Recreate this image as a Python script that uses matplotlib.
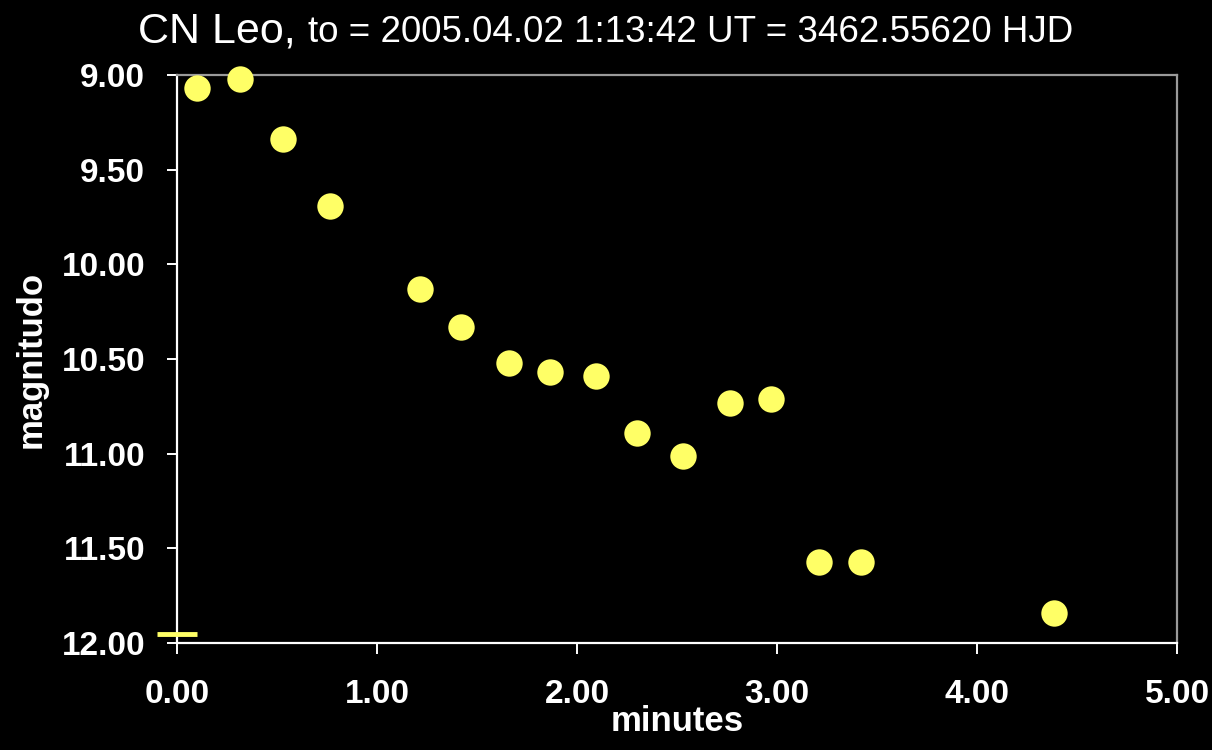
import matplotlib
matplotlib.use("Agg")
import matplotlib.pyplot as plt

# time since to (minutes) and magnitude
minutes = [0.10, 0.315, 0.53, 0.765, 1.215, 1.42, 1.66, 1.865, 2.095,
           2.30, 2.53, 2.765, 2.97, 3.21, 3.42, 4.385]
magnitudo = [9.07, 9.02, 9.34, 9.69, 10.13, 10.33, 10.52, 10.57, 10.59,
             10.89, 11.01, 10.73, 10.71, 11.57, 11.57, 11.84]
# short limit mark at the bottom left
limit_x = [0.0]
limit_y = [11.95]

xticks = [0, 1, 2, 3, 4, 5]
yticks = [9.0, 9.5, 10.0, 10.5, 11.0, 11.5, 12.0]

plt.rcParams['font.family'] = ['Liberation Sans', 'DejaVu Sans']
yellow = '#ffff66'

fig = plt.figure(figsize=(12.12, 7.5), dpi=100, facecolor='black')
ax = fig.add_axes([177/1212, 1 - 643/750, 1000/1212, 568/750])
ax.set_facecolor('black')

ax.plot(minutes, magnitudo, 'o', color=yellow, markersize=19, markeredgewidth=0,
        clip_on=False, zorder=3)
ax.plot(limit_x, limit_y, '_', color=yellow, markersize=29, markeredgewidth=3.5,
        clip_on=False, zorder=3)

ax.set_xlim(0, 5)
ax.set_ylim(12, 9)
ax.set_xticks(xticks)
ax.set_yticks(yticks)
ax.set_xticklabels([f"{v:.2f}" for v in xticks])
ax.set_yticklabels([f"{v:.2f}" for v in yticks])

for s in ['left', 'bottom']:
    ax.spines[s].set_color('white')
    ax.spines[s].set_linewidth(1.6)
for s in ['top', 'right']:
    ax.spines[s].set_color('#9a9a9a')
    ax.spines[s].set_linewidth(1.6)

ax.tick_params(axis='y', colors='white', length=7, width=1.4, pad=16, labelsize=24)
ax.tick_params(axis='x', colors='white', length=8, width=1.4, pad=18, labelsize=24)
for lab in ax.get_xticklabels() + ax.get_yticklabels():
    lab.set_fontweight('bold')

ax.set_xlabel('minutes', color='white', fontsize=25, fontweight='bold', labelpad=-4)
ax.set_ylabel('magnitudo', color='white', fontsize=25, fontweight='bold', labelpad=10)

# two-size title, centred on the figure
fig.canvas.draw()
r = fig.canvas.get_renderer()
t1 = fig.text(0, 1 - 42/750, 'CN Leo, ', color='white', fontsize=31, va='baseline')
t2 = fig.text(0, 1 - 42/750, 'to = 2005.04.02 1:13:42 UT = 3462.55620 HJD',
              color='white', fontsize=26.5, va='baseline')
w1 = t1.get_window_extent(r).width
w2 = t2.get_window_extent(r).width
x0 = (1212 - w1 - w2) / 2
t1.set_x(x0 / 1212)
t2.set_x((x0 + w1) / 1212)

fig.savefig('out.png', dpi=100, facecolor='black')
